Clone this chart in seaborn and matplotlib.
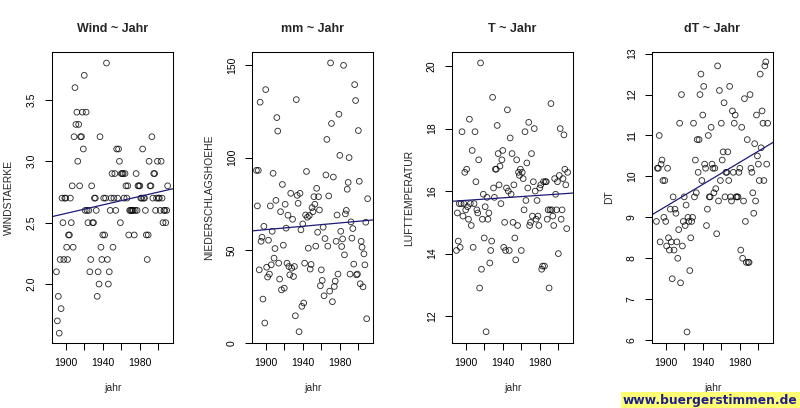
import numpy as np
import pandas as pd
import matplotlib
matplotlib.use("Agg")
import matplotlib.pyplot as plt
import seaborn as sns

jahr = list(range(1890, 2011))

wind = [2.1, 1.7, 1.9, 1.6, 2.2, 1.8, 2.7, 2.5, 2.2, 2.7,
        2.7, 2.3, 2.2, 2.4, 2.4, 2.7, 2.5, 2.8, 2.3, 3.2,
        3.6, 3.3, 3.4, 3.0, 3.3, 2.8, 3.2, 3.2, 3.4, 3.1,
        3.7, 2.6, 3.4, 2.6, 2.5, 2.6, 2.1, 2.2, 2.8, 2.5,
        2.5, 2.7, 2.7, 2.6, 1.9, 2.1, 2.0, 3.2, 2.3, 2.2,
        2.4, 2.7, 2.4, 2.7, 3.8, 2.2, 2.0, 2.1, 2.6, 2.7,
        2.9, 2.3, 2.7, 2.9, 2.6, 3.1, 2.7, 3.1, 3.0, 2.5,
        2.9, 2.9, 2.9, 2.7, 2.9, 2.8, 2.7, 2.8, 2.4, 2.6,
        2.6, 2.6, 2.6, 2.6, 2.4, 2.6, 2.9, 2.6, 2.8, 2.8,
        2.8, 2.7, 2.7, 3.1, 2.7, 2.7, 2.6, 2.4, 2.2, 2.4,
        3.0, 2.8, 2.8, 3.2, 2.7, 2.9, 2.9, 2.6, 2.7, 3.0,
        2.7, 2.7, 2.6, 3.0, 2.7, 2.5, 2.6, 2.6, 2.5, 2.6,
        2.8]

mm = [93.1, 73.9, 93.1, 39.4, 129.9, 54.8, 57.0, 23.6, 62.9, 10.7,
      136.7, 40.8, 35.5, 55.4, 37.1, 73.9, 42.1, 60.2, 91.5, 45.7,
      50.9, 76.9, 121.6, 114.3, 43.0, 34.4, 70.8, 28.6, 85.5, 52.7,
      29.5, 74.8, 61.9, 43.0, 68.9, 41.2, 36.7, 80.7, 40.3, 66.7,
      35.8, 41.2, 14.6, 131.3, 79.6, 75.3, 6.0, 80.7, 61.0, 19.7,
      64.2, 21.5, 43.0, 69.0, 92.5, 67.8, 51.1, 68.7, 39.8, 42.3,
      73.0, 70.8, 78.9, 74.8, 52.2, 83.4, 59.7, 78.9, 71.7, 30.8,
      39.4, 33.7, 62.4, 25.4, 56.3, 90.6, 109.8, 52.2, 79.3, 27.9,
      151.1, 118.4, 22.2, 89.5, 30.4, 33.3, 54.8, 69.0, 37.1, 123.4,
      101.2, 60.2, 52.0, 56.1, 149.8, 47.5, 69.6, 71.5, 82.9, 86.6,
      100.0, 37.1, 65.3, 56.5, 61.7, 42.5, 139.4, 130.8, 36.7, 37.1,
      114.6, 87.2, 31.9, 54.8, 51.6, 30.2, 48.0, 42.1, 65.1, 13.0,
      77.8]

temp = [14.1, 15.3, 14.4, 15.6, 14.2, 15.6, 17.9, 15.2, 15.6, 16.6,
        15.4, 16.7, 15.5, 15.1, 18.3, 15.6, 14.9, 17.3, 14.2, 15.6,
        17.9, 16.3, 15.4, 15.3, 17.0, 12.9, 20.1, 13.5, 15.1, 15.9,
        14.5, 15.5, 11.5, 15.8, 15.1, 15.3, 13.7, 14.1, 14.4, 19.0,
        16.1, 15.8, 16.7, 16.7, 18.1, 17.2, 16.2, 16.8, 15.6, 17.0,
        17.3, 14.2, 15.0, 14.1, 16.1, 18.6, 16.0, 14.1, 17.7, 15.9,
        17.2, 15.0, 16.2, 14.5, 13.8, 17.0, 14.9, 16.6, 16.5, 16.7,
        14.1, 16.6, 16.4, 15.4, 17.9, 15.7, 16.9, 16.1, 18.2, 14.9,
        15.0, 17.2, 15.2, 16.3, 18.0, 16.0, 15.1, 15.7, 15.2, 14.9,
        16.1, 16.2, 13.5, 13.6, 16.3, 13.6, 16.3, 16.3, 15.1, 15.4,
        12.9, 15.4, 18.8, 15.4, 15.2, 14.9, 16.4, 15.9, 15.4, 16.3,
        14.0, 16.5, 18.0, 15.1, 15.4, 16.4, 17.8, 16.7, 16.2, 14.8,
        16.6]

dt = [8.9, 10.2, 10.2, 11.0, 8.4, 10.3, 10.4, 9.9, 9.0, 9.9,
      8.9, 8.3, 10.2, 8.5, 8.2, 9.2, 8.4, 7.5, 9.5, 8.2,
      9.2, 9.1, 8.4, 8.0, 8.7, 11.3, 7.4, 12.0, 8.3, 8.9,
      9.5, 8.8, 9.3, 6.2, 9.0, 8.9, 7.7, 8.5, 8.9, 9.0,
      11.3, 9.5, 10.4, 9.6, 10.9, 10.1, 10.9, 12.0, 12.5, 9.9,
      11.5, 12.2, 10.3, 10.2, 8.8, 9.2, 11.0, 9.5, 9.5, 11.2,
      10.3, 10.2, 9.6, 10.2, 9.7, 8.6, 12.7, 9.4, 12.1, 9.9,
      11.3, 10.4, 10.6, 11.8, 9.5, 10.1, 10.1, 10.6, 9.9, 12.2,
      9.5, 9.4, 11.6, 10.1, 11.3, 11.5, 9.5, 9.5, 9.5, 10.1,
      10.2, 8.2, 11.2, 8.0, 9.4, 11.9, 8.9, 7.9, 10.9, 7.9,
      7.9, 12.0, 10.2, 10.1, 9.6, 9.1, 10.8, 9.4, 11.5, 10.5,
      10.3, 9.9, 12.5, 10.7, 11.6, 11.3, 9.9, 12.7, 12.8, 10.3,
      11.3]

df = pd.DataFrame({"jahr": jahr, "WINDSTAERKE": wind,
                   "NIEDERSCHLAGSHOEHE": mm, "LUFTTEMPERATUR": temp, "DT": dt})

titles = ["Wind ~ Jahr", "mm ~ Jahr", "T ~ Jahr", "dT ~ Jahr"]
cols = ["WINDSTAERKE", "NIEDERSCHLAGSHOEHE", "LUFTTEMPERATUR", "DT"]
ylims = [(1.52, 3.89), (-0.1, 157.0), (11.14, 20.45), (5.93, 13.04)]
yticks = [[2.0, 2.5, 3.0, 3.5], [0, 50, 100, 150], [12, 14, 16, 18, 20],
          [6, 7, 8, 9, 10, 11, 12, 13]]
ytlabels = [["2.0", "2.5", "3.0", "3.5"], ["0", "50", "100", "150"],
            ["12", "14", "16", "18", "20"], ["6", "7", "8", "9", "10", "11", "12", "13"]]
xticks = [1900, 1920, 1940, 1960, 1980, 2000]
xtlabels = ["1900", "", "1940", "", "1980", ""]

sns.set_theme(style="ticks")
plt.rcParams["font.family"] = ["Liberation Sans", "DejaVu Sans"]
plt.rcParams["axes.edgecolor"] = "black"
plt.rcParams["axes.linewidth"] = 0.75

fig = plt.figure(figsize=(8, 4.08), dpi=100)
W, H = 800, 408
for i in range(4):
    left = 52 + 200 * i
    ax = fig.add_axes([left / W, (H - 343) / H, 121 / W, 291 / H])
    ax.set_xlim(1885.2, 2015.8)
    ax.set_ylim(*ylims[i])
    sns.regplot(data=df, x="jahr", y=cols[i], ax=ax, ci=None, truncate=False,
                scatter_kws=dict(s=17, facecolors="none", edgecolors="black",
                                 linewidths=0.65),
                line_kws=dict(color="#1b1b78", linewidth=0.9))
    ax.set_xlim(1885.2, 2015.8)
    ax.set_ylim(*ylims[i])
    ax.set_xticks(xticks)
    ax.set_xticklabels(xtlabels)
    ax.set_yticks(yticks[i])
    ax.set_yticklabels(ytlabels[i], rotation=90, va="center")
    ax.tick_params(axis="both", length=5, width=0.75, color="black",
                   labelsize=7.5, labelcolor="black", pad=6)
    for sp in ax.spines.values():
        sp.set_visible(True)
        sp.set_color("black")
        sp.set_linewidth(0.75)
    ax.set_title(titles[i], fontsize=9, fontweight="bold", pad=14.5)
    ax.set_xlabel("jahr", fontsize=7.5)
    ax.set_ylabel(cols[i], fontsize=7.5)
    ax.xaxis.set_label_coords(0.5, -45 / 291)
    ax.xaxis.label.set_va("center")
    ax.yaxis.set_label_coords(-43 / 121, 0.5)
    ax.yaxis.label.set_va("center")

fig.text(0.997, 0.003, "www.buergerstimmen.de", ha="right", va="bottom",
         fontsize=8.8, fontweight="bold", color="#1e1e8c", family="DejaVu Sans",
         bbox=dict(facecolor="#ffff73", edgecolor="none", pad=1.5))

fig.savefig("out.png", dpi=100, facecolor="white")
